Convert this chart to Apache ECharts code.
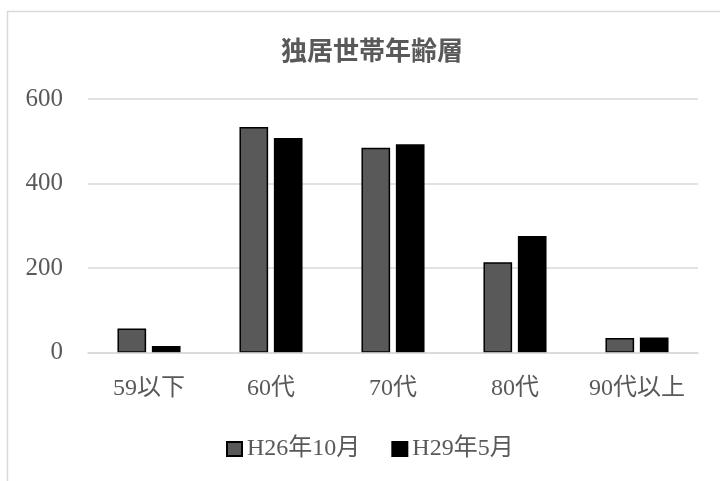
<!DOCTYPE html>
<html>
<head>
<meta charset="utf-8">
<style>
  html, body { margin: 0; padding: 0; background: #fff; }
  #chart { width: 720px; height: 481px; }
</style>
<script src="https://cdn.jsdelivr.net/npm/echarts@6/dist/echarts.min.js"></script>
</head>
<body>
<div id="chart"></div>
<script>
// Single-person households by age bracket
const categories = ['59以下', '60代', '70代', '80代', '90代以上'];
const seriesNames = ['H26年10月', 'H29年5月'];
const valuesH26 = [57, 534, 485, 214, 35];
const valuesH29 = [16, 508, 493, 276, 36];
const yTicks = [0, 200, 400, 600];

const FONT = "'Liberation Serif', 'DejaVu Serif', 'Noto Sans CJK JP', serif";
const TEXT = '#595959';

const chart = echarts.init(document.getElementById('chart'), null, { renderer: 'canvas' });

chart.setOption({
  animation: false,
  backgroundColor: '#fff',
  textStyle: { fontFamily: FONT },
  graphic: [{
    type: 'rect',
    shape: { x: 7.5, y: 11.5, width: 760, height: 520 },
    style: { fill: 'none', stroke: '#d9d9d9', lineWidth: 1.5 },
    silent: true,
    z: -1
  }],
  title: {
    text: '独居世帯年齢層',
    left: 367,
    top: 35,
    textAlign: 'center',
    textStyle: { fontFamily: FONT, fontSize: 26, fontWeight: 'bold', color: TEXT }
  },
  legend: {
    data: seriesNames,
    top: 437,
    left: 226,
    padding: 0,
    itemWidth: 15,
    itemHeight: 14,
    itemGap: 31,
    icon: 'rect',
    textStyle: { fontFamily: FONT, fontSize: 24, color: TEXT }
  },
  grid: { left: 88, right: 22, top: 99, bottom: 128.3, containLabel: false },
  xAxis: {
    type: 'category',
    data: categories,
    axisLine: { show: true, lineStyle: { color: '#d9d9d9', width: 1.5 } },
    axisTick: { show: false },
    axisLabel: { fontFamily: FONT, fontSize: 24, color: TEXT, margin: 24, interval: 0, hideOverlap: false },
    z: 10
  },
  yAxis: {
    type: 'value',
    min: yTicks[0],
    max: yTicks[yTicks.length - 1],
    interval: 200,
    axisLine: { show: false },
    axisTick: { show: false },
    axisLabel: { fontFamily: FONT, fontSize: 25, color: TEXT, margin: 25 },
    splitLine: { lineStyle: { color: '#d9d9d9', width: 1.5 } }
  },
  series: [
    {
      name: seriesNames[0],
      type: 'bar',
      data: valuesH26,
      barWidth: '23.5%',
      barGap: '20%',
      itemStyle: { color: '#595959', borderColor: '#000', borderWidth: 1.5 }
    },
    {
      name: seriesNames[1],
      type: 'bar',
      data: valuesH29,
      barWidth: '23.5%',
      itemStyle: { color: '#000', borderColor: '#000', borderWidth: 1.5 }
    }
  ]
});
</script>
</body>
</html>
